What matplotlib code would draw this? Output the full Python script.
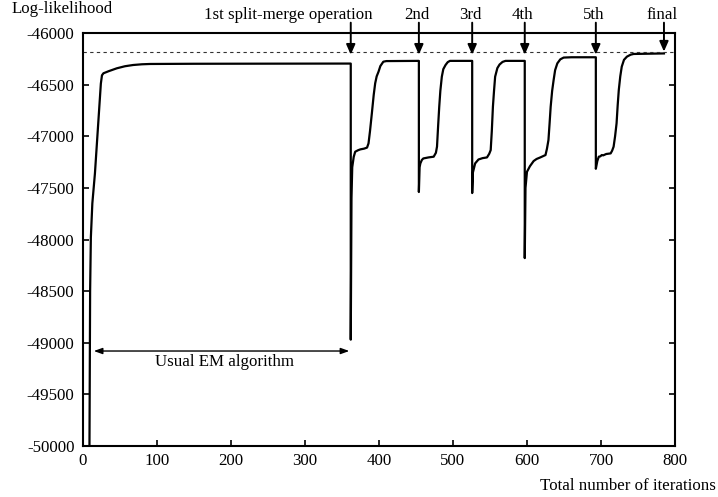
import numpy as np
import matplotlib
matplotlib.use('Agg')
import matplotlib.pyplot as plt

matplotlib.rcParams['font.family'] = ['Liberation Serif', 'DejaVu Serif']
matplotlib.rcParams['axes.unicode_minus'] = False

# ---------- data ----------
# usual EM run
EM_ITER = [9, 10, 11, 13, 16.5, 21, 24.5, 26, 28, 35, 46, 57, 68, 80, 91, 150, 250, 362]
EM_LL = [-50200, -48500, -47980, -47650, -47360, -46870, -46490, -46410, -46390, -46370,
         -46342, -46322, -46310, -46303, -46300, -46298, -46297, -46296]

# after each split-merge operation (first point = drop right after the operation)
SM1_ITER = [362, 363, 364, 366, 368, 372, 375, 380, 384, 386, 388, 390.5, 393, 395, 397,
            399.5, 402, 406, 410, 454]
SM1_LL = [-48970, -47600, -47300, -47200, -47150, -47135, -47127, -47120, -47110, -47069,
          -46950, -46778, -46600, -46487, -46420, -46375, -46320, -46278, -46272, -46270]

SM2_ITER = [454, 455, 456, 458, 460, 467, 474, 477, 478.5, 480, 481.5, 483, 485, 487, 490,
            493, 496, 526]
SM2_LL = [-47540, -47300, -47263, -47230, -47215, -47205, -47198, -47160, -47100, -46900,
          -46714, -46560, -46423, -46350, -46310, -46282, -46270, -46270]

SM3_ITER = [526, 527, 530, 534.5, 540, 546, 549, 551, 552.5, 554, 555.5, 557, 560, 563, 567,
            571, 597]
SM3_LL = [-47550, -47350, -47263, -47225, -47212, -47205, -47170, -47134, -46950, -46714,
          -46560, -46423, -46340, -46305, -46280, -46270, -46270]

SM4_ITER = [597, 598, 600, 604, 609, 613, 618, 625, 627, 629, 630.5, 632, 634, 636, 638,
            641, 645, 649.5, 660, 693]
SM4_LL = [-48180, -47500, -47344, -47290, -47240, -47220, -47205, -47182, -47120, -47037,
          -46880, -46714, -46560, -46455, -46360, -46294, -46255, -46238, -46235, -46235]

SM5_ITER = [693, 695, 697, 699, 701, 703, 707, 713, 715, 717, 719, 721, 722.5, 724, 726,
            728, 731, 735, 740, 744, 785]
SM5_LL = [-47315, -47240, -47198, -47195, -47182, -47185, -47172, -47166, -47140, -47101,
          -47000, -46875, -46700, -46552, -46420, -46326, -46260, -46229, -46210, -46203,
          -46198]

# split-merge operations and the best value reached
OP_ITERS = [362, 454, 526, 597, 693, 785]
OP_LABELS = ['1st split-merge operation', '2nd', '3rd', '4th', '5th', 'final']
BEST_LL = -46180

X_TICKS = list(range(0, 801, 100))
Y_TICKS = list(range(-50000, -45999, 500))

FS = 12.2


def main():
    fig = plt.figure(figsize=(7.18, 4.97), dpi=100)
    ax = fig.add_axes([0.1152, 0.1026, 0.825, 0.831])

    iters = np.concatenate([EM_ITER, SM1_ITER, SM2_ITER, SM3_ITER, SM4_ITER, SM5_ITER])
    ll = np.concatenate([EM_LL, SM1_LL, SM2_LL, SM3_LL, SM4_LL, SM5_LL])
    ax.plot(iters, ll, color='black', lw=1.6, solid_joinstyle='round')

    # best value (dashed)
    ax.axhline(BEST_LL, color='#333333', lw=0.8, ls=(0, (3, 3)))

    ax.set_xlim(0, 800)
    ax.set_ylim(-50000, -46000)
    ax.set_xticks(X_TICKS)
    ax.set_yticks(Y_TICKS)
    ax.set_xticklabels([str(v) for v in X_TICKS], fontsize=FS)
    ax.set_yticklabels([str(v) for v in Y_TICKS], fontsize=FS)
    ax.tick_params(direction='in', length=4, width=1.2, right=True, top=False)
    ax.tick_params(axis='x', pad=5)
    ax.tick_params(axis='y', pad=6)
    for sp in ax.spines.values():
        sp.set_linewidth(1.5)

    # arrows for split-merge operations
    arrow_kw = dict(arrowstyle='-|>,head_length=0.5,head_width=0.22', color='black',
                    lw=1.4, mutation_scale=12, shrinkA=0, shrinkB=0)
    for i, (x, lab) in enumerate(zip(OP_ITERS, OP_LABELS)):
        tip = BEST_LL if lab == 'final' else BEST_LL - 30
        ax.annotate('', xy=(x, tip), xytext=(x, -45900), arrowprops=arrow_kw,
                    annotation_clip=False)
        if i == 0:
            ax.text(x + 30, -45867, lab, ha='right', va='baseline', fontsize=FS)
        else:
            ax.text(x - 3, -45867, lab, ha='center', va='baseline', fontsize=FS)

    # usual EM span
    ax.annotate('', xy=(15, -49080), xytext=(360, -49080),
                arrowprops=dict(arrowstyle='<|-|>,head_length=0.5,head_width=0.18',
                                color='black', lw=1.0, mutation_scale=10,
                                shrinkA=0, shrinkB=0))
    ax.text(191, -49188, 'Usual EM algorithm', ha='center', va='center', fontsize=FS)

    fig.text(0.0167, 0.9745, 'Log-likelihood', ha='left', va='baseline', fontsize=FS)
    fig.text(0.997, 0.014, 'Total number of iterations', ha='right', va='baseline',
             fontsize=FS)

    fig.savefig('out.png', dpi=100)
    plt.close(fig)


if __name__ == '__main__':
    main()
